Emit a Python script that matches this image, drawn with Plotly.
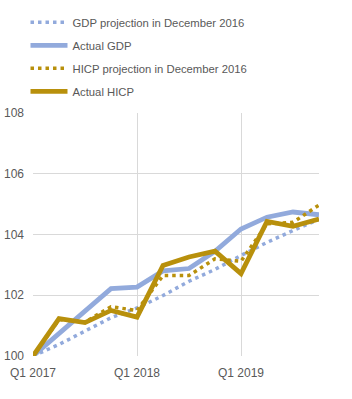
import plotly.graph_objects as go

quarters = ["Q1 2017", "Q2 2017", "Q3 2017", "Q4 2017",
            "Q1 2018", "Q2 2018", "Q3 2018", "Q4 2018",
            "Q1 2019", "Q2 2019", "Q3 2019", "Q4 2019"]
gdp_proj = [100.0, 100.38, 100.82, 101.26, 101.58, 101.99, 102.46, 102.85, 103.31, 103.74, 104.13, 104.5]
gdp_actual = [100.0, 100.75, 101.5, 102.22, 102.27, 102.8, 102.88, 103.45, 104.18, 104.57, 104.74, 104.65]
hicp_proj = [100.0, 101.2, 101.12, 101.62, 101.5, 102.65, 102.65, 103.2, 103.12, 104.35, 104.4, 104.97]
hicp_actual = [100.0, 101.23, 101.1, 101.5, 101.28, 102.98, 103.26, 103.45, 102.71, 104.43, 104.27, 104.51]
y_ticks = [100, 102, 104, 106, 108]
x_tick_labels = ["Q1 2017", "Q1 2018", "Q1 2019"]

BLUE = "#92AADC"
GOLD = "#B8900C"
TXT = "#595959"
DOT = "3.5px,4px"

x = list(range(len(quarters)))

fig = go.Figure()
fig.add_trace(go.Scatter(x=x, y=gdp_proj, mode="lines", name="GDP projection in December 2016",
                         line=dict(color=BLUE, width=3.5, dash=DOT), legendgroup="a"))
fig.add_trace(go.Scatter(x=x, y=gdp_actual, mode="lines", name="Actual GDP",
                         line=dict(color=BLUE, width=4.8), legendgroup="b"))
fig.add_trace(go.Scatter(x=x, y=hicp_proj, mode="lines", name="HICP projection in December 2016",
                         line=dict(color=GOLD, width=3.5, dash=DOT), legendgroup="c"))
fig.add_trace(go.Scatter(x=x, y=hicp_actual, mode="lines", name="Actual HICP",
                         line=dict(color=GOLD, width=4.8), legendgroup="d"))

fig.update_layout(
    width=352, height=399,
    margin=dict(l=33, r=33, t=113, b=43),
    paper_bgcolor="white", plot_bgcolor="white",
    font=dict(family="Liberation Sans, Arial, sans-serif", size=12, color=TXT),
    showlegend=True,
    legend=dict(xref="paper", x=-0.0035 - 6.5 / 286, xanchor="left",
                yref="container", y=1 - 7.8 / 399, yanchor="top",
                traceorder="grouped", tracegroupgap=4, itemwidth=37,
                font=dict(size=11.3, color=TXT), bgcolor="rgba(0,0,0,0)"),
    xaxis=dict(range=[0, 11], tickvals=[0, 4, 8], ticktext=x_tick_labels,
               showgrid=True, gridcolor="#D9D9D9", gridwidth=1, zeroline=False,
               showline=False, ticks="", ticklabelstandoff=8, automargin=False,
               tickfont=dict(size=12, color=TXT)),
    yaxis=dict(range=[100, 108], tickvals=y_ticks, showgrid=True, gridcolor="#D9D9D9",
               gridwidth=1, zeroline=False, showline=False, ticks="", automargin=False,
               ticklabelstandoff=8, tickfont=dict(size=12, color=TXT)),
)

fig.write_html("out.html")
